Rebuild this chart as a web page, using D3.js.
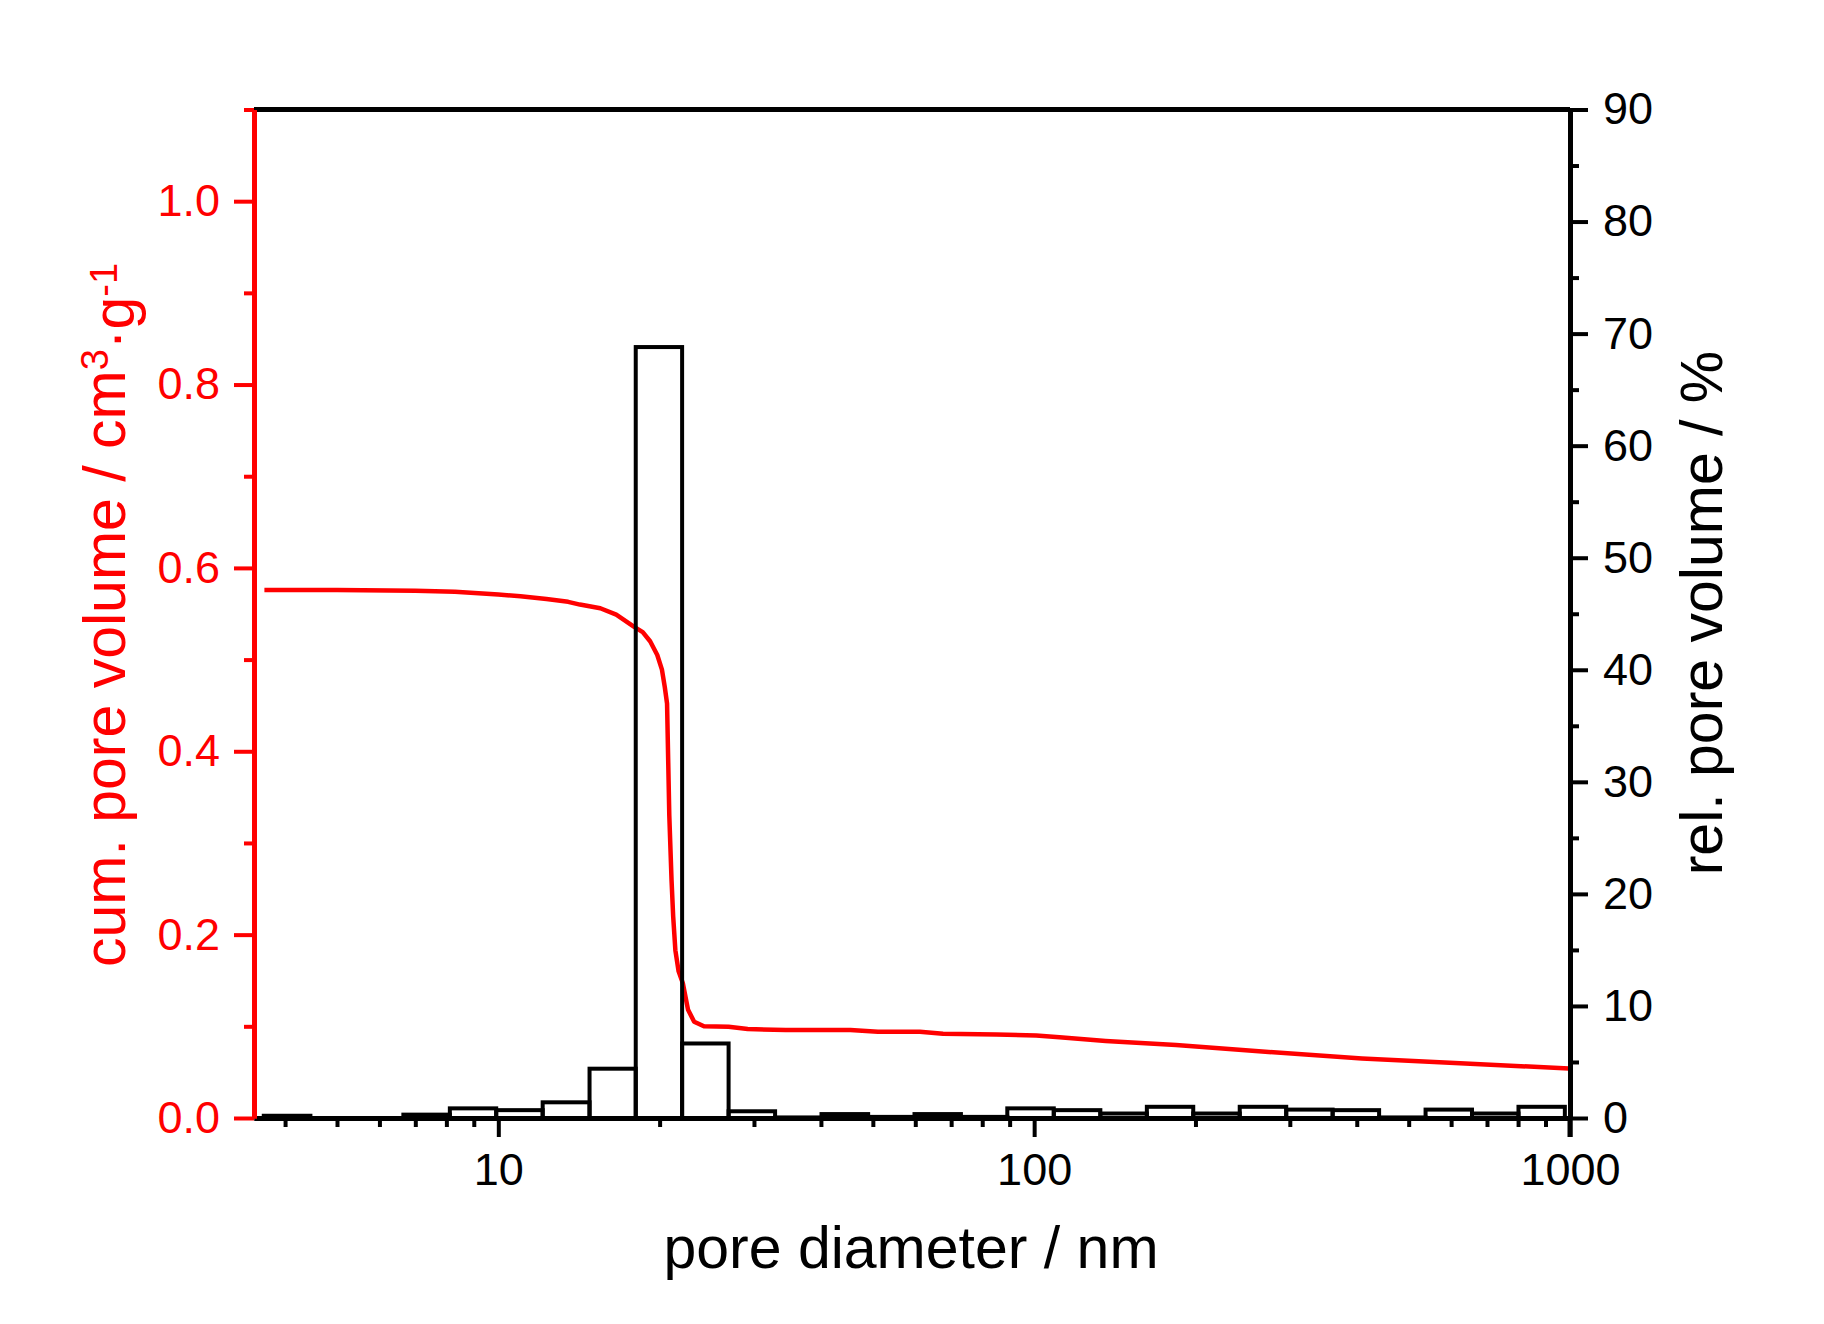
<!DOCTYPE html>
<html>
<head>
<meta charset="utf-8">
<script src="https://cdn.jsdelivr.net/npm/d3@7"></script>
<style>
  html, body { margin: 0; padding: 0; background: #fff; }
  text { font-family: "Liberation Sans", Arial, sans-serif; }
</style>
</head>
<body>
<svg id="chart" width="1824" height="1324"></svg>
<script>
// ---------- data ----------
// histogram bin edges (pore diameter, nm), log-spaced
const binEdges = [3.65, 4.46, 5.45, 6.65, 8.12, 9.91, 12.1, 14.8, 18.05, 22.03, 26.9, 32.85, 40.1, 49.0,
  59.8, 73.0, 89.1, 108.8, 132.9, 162.3, 198.1, 241.9, 295.4, 360.6, 440.3, 537.6, 656.3, 801.4, 978.1];
// relative pore volume per bin (%)
const relVolume = [0.2, 0, 0, 0.3, 0.86, 0.7, 1.4, 4.4, 68.8, 6.65, 0.6, 0.05, 0.35, 0.1,
  0.35, 0.1, 0.86, 0.7, 0.4, 1.0, 0.4, 1.0, 0.75, 0.7, 0.05, 0.75, 0.4, 1.0];
// cumulative pore volume curve
const cumDiameter = [3.66, 5, 7, 8.3, 10, 11, 12.3, 13.5, 14.2, 15.5, 16.6, 17.9, 18.6, 19.2, 19.8, 20.2,
  20.45, 20.65, 20.85, 21.05, 21.2, 21.4, 21.7, 22.1, 22.6, 23.2, 24.2, 26.9, 29.2, 34.4, 45.4, 51.1,
  61.2, 67.6, 85, 100.9, 111.5, 136, 184, 274, 409, 610, 995];
const cumVolume = [0.576, 0.576, 0.575, 0.574, 0.571, 0.569, 0.566, 0.563, 0.560, 0.556, 0.549, 0.536,
  0.530, 0.520, 0.505, 0.489, 0.47, 0.452, 0.33, 0.26, 0.22, 0.183, 0.16, 0.147, 0.118, 0.105, 0.100,
  0.0995, 0.097, 0.096, 0.096, 0.094, 0.094, 0.092, 0.091, 0.090, 0.088, 0.084, 0.0795, 0.072, 0.065,
  0.060, 0.054];
// axis ticks
const xMajorTicks = [10, 100, 1000];
const xMinorTicks = [4, 5, 6, 7, 8, 9, 20, 30, 40, 50, 60, 70, 80, 90, 200, 300, 400, 500, 600, 700, 800, 900];
const yLeftMajor = [0, 0.2, 0.4, 0.6, 0.8, 1.0];
const yLeftMinor = [0.1, 0.3, 0.5, 0.7, 0.9, 1.1];
const yRightMajor = [0, 10, 20, 30, 40, 50, 60, 70, 80, 90];
const yRightMinor = [5, 15, 25, 35, 45, 55, 65, 75, 85];
const xTitle = "pore diameter / nm";
const yRightTitle = "rel. pore volume / %";

// ---------- layout ----------
const L = 254, R = 1570, T = 109.5, B = 1118;
const RED = "#ff0000";
const svg = d3.select("#chart");

const x = d3.scaleLog().domain([3.5, 1000]).range([L, R]);
const yL = d3.scaleLinear().domain([0, 1.1]).range([B, T]);
const yR = d3.scaleLinear().domain([0, 90]).range([B, T]);

// cumulative curve
const line = d3.line().x(d => x(d[0])).y(d => yL(d[1]));
svg.append("path")
  .datum(cumDiameter.map((d, i) => [d, cumVolume[i]]))
  .attr("d", line)
  .attr("fill", "none")
  .attr("stroke", RED)
  .attr("stroke-width", 4.5)
  .attr("stroke-linejoin", "round");

// histogram bars
svg.append("g").selectAll("rect")
  .data(relVolume)
  .join("rect")
  .attr("x", (d, i) => x(binEdges[i]))
  .attr("width", (d, i) => x(binEdges[i + 1]) - x(binEdges[i]))
  .attr("y", d => yR(d))
  .attr("height", d => yR(0) - yR(d))
  .attr("fill", "none")
  .attr("stroke", "#000")
  .attr("stroke-width", 4);

// top frame
svg.append("line")
  .attr("x1", L).attr("x2", R).attr("y1", T).attr("y2", T)
  .attr("stroke", "#000").attr("stroke-width", 5);

function styleAxis(g, color, fs) {
  g.select(".domain").attr("stroke", color).attr("stroke-width", 5);
  g.selectAll(".tick line").attr("stroke", color).attr("stroke-width", 4);
  g.selectAll(".tick text").attr("fill", color).style("font-size", fs + "px")
    .style("font-family", '"Liberation Sans", Arial, sans-serif');
}

// bottom axis
const gxMinor = svg.append("g").attr("transform", `translate(0,${B})`)
  .call(d3.axisBottom(x).tickValues(xMinorTicks).tickSize(9).tickSizeOuter(0).tickFormat(""));
styleAxis(gxMinor, "#000", 45);
const gx = svg.append("g").attr("transform", `translate(0,${B})`)
  .call(d3.axisBottom(x).tickValues(xMajorTicks).tickSize(19).tickSizeOuter(0).tickPadding(16).tickFormat(d3.format("d")));
styleAxis(gx, "#000", 45);

// right axis
const gyRMinor = svg.append("g").attr("transform", `translate(${R},0)`)
  .call(d3.axisRight(yR).tickValues(yRightMinor).tickSize(9).tickSizeOuter(0).tickFormat(""));
styleAxis(gyRMinor, "#000", 45);
const gyR = svg.append("g").attr("transform", `translate(${R},0)`)
  .call(d3.axisRight(yR).tickValues(yRightMajor).tickSize(18).tickSizeOuter(0).tickPadding(15).tickFormat(d3.format("d")));
styleAxis(gyR, "#000", 45);
// extend right axis line down to the bottom tick length
svg.append("line").attr("x1", R).attr("x2", R).attr("y1", B).attr("y2", B + 19)
  .attr("stroke", "#000").attr("stroke-width", 5);

// left axis (red)
const gyLMinor = svg.append("g").attr("transform", `translate(${L},0)`)
  .call(d3.axisLeft(yL).tickValues(yLeftMinor).tickSize(10).tickSizeOuter(0).tickFormat(""));
styleAxis(gyLMinor, RED, 45);
const gyL = svg.append("g").attr("transform", `translate(${L},0)`)
  .call(d3.axisLeft(yL).tickValues(yLeftMajor).tickSize(20).tickSizeOuter(0).tickPadding(14).tickFormat(d3.format(".1f")));
styleAxis(gyL, RED, 45);

// axis titles
svg.append("text")
  .attr("x", 911).attr("y", 1268)
  .attr("text-anchor", "middle")
  .style("font-size", "59px")
  .attr("fill", "#000")
  .text(xTitle);

svg.append("text")
  .attr("transform", "translate(1722,613) rotate(-90)")
  .attr("text-anchor", "middle")
  .style("font-size", "59px")
  .attr("fill", "#000")
  .text(yRightTitle);

const lt = svg.append("text")
  .attr("transform", "translate(125,615) rotate(-90)")
  .attr("text-anchor", "middle")
  .style("font-size", "59px")
  .attr("fill", RED);
lt.append("tspan").text("cum. pore volume / cm");
lt.append("tspan").attr("dy", "-0.45em").style("font-size", "38px").text("3");
lt.append("tspan").attr("dy", "0.45em").text("·g");
lt.append("tspan").attr("dy", "-0.45em").style("font-size", "38px").text("-1");
</script>
</body>
</html>
